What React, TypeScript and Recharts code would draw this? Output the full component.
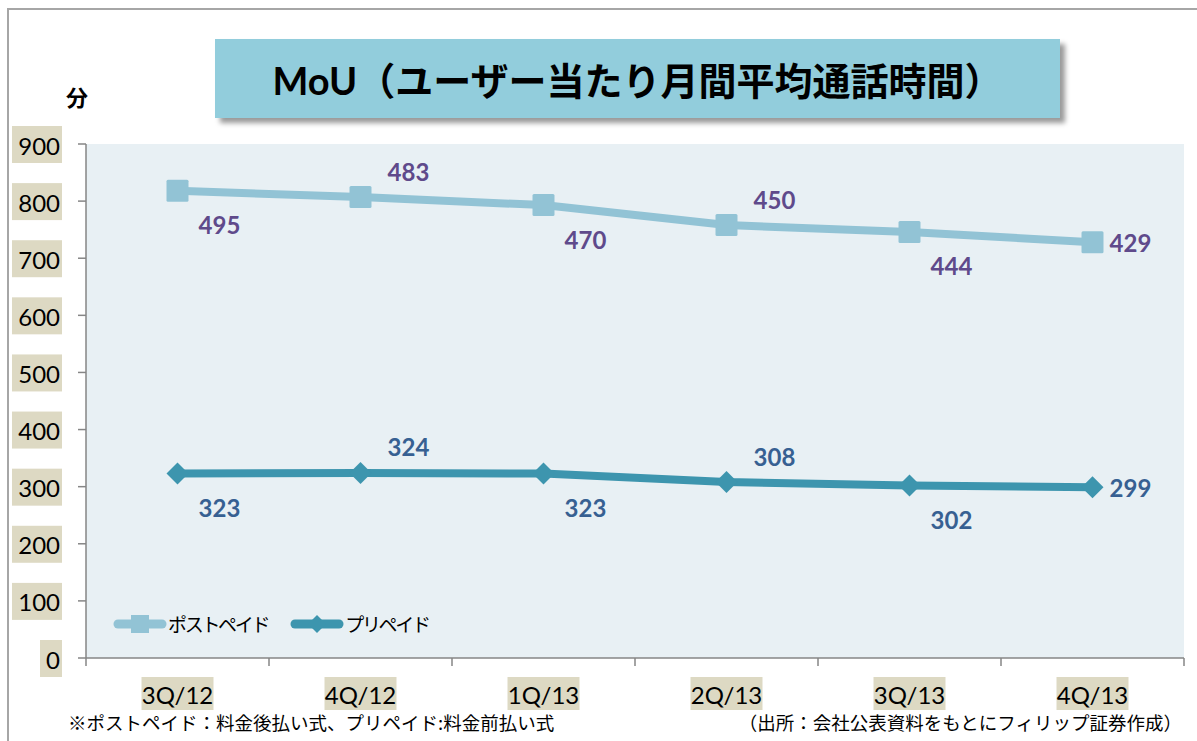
import React from "react";
import {
    LineChart,
    Line,
    XAxis,
    YAxis,
    CartesianGrid,
    LabelList,
} from "recharts";

const quarters = ["3Q/12", "4Q/12", "1Q/13", "2Q/13", "3Q/13", "4Q/13"];
const postpaid = [495, 483, 470, 450, 444, 429];
const prepaid = [323, 324, 323, 308, 302, 299];
const postpaidLabelPos = ["below", "above", "below", "above", "below", "right"];
const prepaidLabelPos = ["below", "above", "below", "above", "below", "right"];
const yTicks = [0, 100, 200, 300, 400, 500, 600, 700, 800, 900];

// postpaid is drawn stacked on top of prepaid (as in the original sheet)
const data = quarters.map((q, i) => ({
    x: i + 0.5,
    quarter: q,
    postpaid: postpaid[i],
    prepaid: prepaid[i],
    postpaidTop: postpaid[i] + prepaid[i],
}));

const LIGHT = "#92c3d5";
const DARK = "#3d95ae";
const BEIGE = "#ddd9c3";
const FONT = "Lato, 'Noto Sans CJK JP', sans-serif";
const JP = "'Noto Sans CJK JP', sans-serif";

const offsets: Record<string, [number, number]> = {
    below: [42, 34],
    above: [48, -26],
    right: [38, 0],
};

const makeLabel = (positions: string[], color: string) => (props: any) => {
    const { x, y, value, index } = props;
    const [dx, dy] = offsets[positions[index]];
    return (
        <text
            x={x + dx}
            y={y + dy}
            textAnchor="middle"
            dominantBaseline="central"
            fill={color}
            fontFamily={FONT}
            fontWeight={700}
            fontSize={24}
        >
            {value}
        </text>
    );
};

const SquareDot = (props: any) => {
    const { cx, cy } = props;
    return <rect x={cx - 11} y={cy - 11} width={22} height={22} rx={1.5} fill={LIGHT} />;
};

const DiamondDot = (props: any) => {
    const { cx, cy } = props;
    return (
        <polygon
            points={`${cx - 11},${cy} ${cx},${cy - 11} ${cx + 11},${cy} ${cx},${cy + 11}`}
            fill={DARK}
        />
    );
};

const YTick = (props: any) => {
    const { y, payload } = props;
    const label = String(payload.value);
    const w = label.length * 14 + 8;
    return (
        <g>
            <rect x={62 - w} y={y - 18} width={w} height={37} fill={BEIGE} />
            <text x={60} y={y + 1} textAnchor="end" dominantBaseline="central" fontFamily={FONT} fontSize={24} fill="#000">
                {label}
            </text>
        </g>
    );
};

const XTick = (props: any) => {
    const { x, y, payload } = props;
    const v = payload.value;
    if (Number.isInteger(v)) {
        return <line x1={x} x2={x} y1={y - 8} y2={y} stroke="#868686" strokeWidth={1.5} />;
    }
    const label = quarters[Math.floor(v)];
    return (
        <g>
            <rect x={x - 36} y={677} width={72} height={33} fill={BEIGE} />
            <text x={x} y={694} textAnchor="middle" dominantBaseline="central" fontFamily={FONT} fontSize={24} fill="#000">
                {label}
            </text>
        </g>
    );
};

const LegendBox = () => (
    <div
        style={{
            position: "absolute",
            left: 113,
            top: 610,
            display: "flex",
            alignItems: "center",
            fontFamily: JP,
            fontSize: 19,
            letterSpacing: -2.3,
            color: "#000",
            whiteSpace: "nowrap",
        }}
    >
        <svg width={54} height={24}>
            <line x1={5} x2={49} y1={12} y2={12} stroke={LIGHT} strokeWidth={9} strokeLinecap="round" />
            <rect x={18} y={3} width={18} height={18} fill={LIGHT} />
        </svg>
        <span style={{ marginLeft: 1, marginRight: 22 }}>ポストペイド</span>
        <svg width={54} height={24}>
            <line x1={5} x2={49} y1={12} y2={12} stroke={DARK} strokeWidth={9} strokeLinecap="round" />
            <polygon points="18,12 27,3 36,12 27,21" fill={DARK} />
        </svg>
        <span style={{ marginLeft: 1 }}>プリペイド</span>
    </div>
);

export default function App() {
    return (
        <div style={{ position: "absolute", left: 0, top: 0, width: 1197, height: 741, background: "#fff", overflow: "hidden" }}>
            <div
                style={{
                    position: "absolute",
                    left: 7,
                    top: 8,
                    width: 1200,
                    height: 740,
                    borderLeft: "2px solid #a6a6a6",
                    borderTop: "2px solid #a6a6a6",
                }}
            />
            <LineChart
                width={1197}
                height={741}
                data={data}
                margin={{ top: 144, right: 13, bottom: 33, left: 10 }}
                style={{ position: "absolute", left: 0, top: 0 }}
            >
                <CartesianGrid horizontal={false} vertical={false} fill="#e8f0f4" />
                <XAxis
                    dataKey="x"
                    type="number"
                    domain={[0, 6]}
                    ticks={[0, 0.5, 1, 1.5, 2, 2.5, 3, 3.5, 4, 4.5, 5, 5.5, 6]}
                    interval={0}
                    height={50}
                    tickLine={false}
                    axisLine={{ stroke: "#868686", strokeWidth: 1.5 }}
                    tick={<XTick />}
                />
                <YAxis
                    domain={[0, 900]}
                    ticks={yTicks}
                    interval={0}
                    width={76}
                    tickSize={8}
                    axisLine={{ stroke: "#868686", strokeWidth: 1.5 }}
                    tickLine={{ stroke: "#868686", strokeWidth: 1.5 }}
                    tick={<YTick />}
                />
                <Line
                    dataKey="postpaidTop"
                    name="ポストペイド"
                    stroke={LIGHT}
                    strokeWidth={8}
                    dot={<SquareDot />}
                    activeDot={false}
                    isAnimationActive={false}
                >
                    <LabelList dataKey="postpaid" content={makeLabel(postpaidLabelPos, "#5f4a8b")} />
                </Line>
                <Line
                    dataKey="prepaid"
                    name="プリペイド"
                    stroke={DARK}
                    strokeWidth={8}
                    dot={<DiamondDot />}
                    activeDot={false}
                    isAnimationActive={false}
                >
                    <LabelList dataKey="prepaid" content={makeLabel(prepaidLabelPos, "#376092")} />
                </Line>
            </LineChart>
            <LegendBox />
            <div
                style={{
                    position: "absolute",
                    left: 215,
                    top: 39,
                    width: 845,
                    height: 79,
                    background: "#92cddc",
                    boxShadow: "5px 5px 5px rgba(0,0,0,0.4)",
                    display: "flex",
                    alignItems: "center",
                    justifyContent: "center",
                    fontFamily: FONT,
                    fontWeight: 700,
                    fontSize: 38,
                    color: "#000",
                }}
            >
                MoU（ユーザー当たり月間平均通話時間）
            </div>
            <div style={{ position: "absolute", left: 66, top: 80, fontFamily: JP, fontWeight: 700, fontSize: 22, color: "#000" }}>
                分
            </div>
            <div style={{ position: "absolute", left: 68, top: 709, fontFamily: JP, fontSize: 18.5, color: "#000", whiteSpace: "nowrap" }}>
                ※ポストペイド：料金後払い式、プリペイド:料金前払い式
            </div>
            <div style={{ position: "absolute", right: 15, top: 709, fontFamily: JP, fontSize: 18.5, color: "#000", whiteSpace: "nowrap" }}>
                （出所：会社公表資料をもとにフィリップ証券作成）
            </div>
        </div>
    );
}
